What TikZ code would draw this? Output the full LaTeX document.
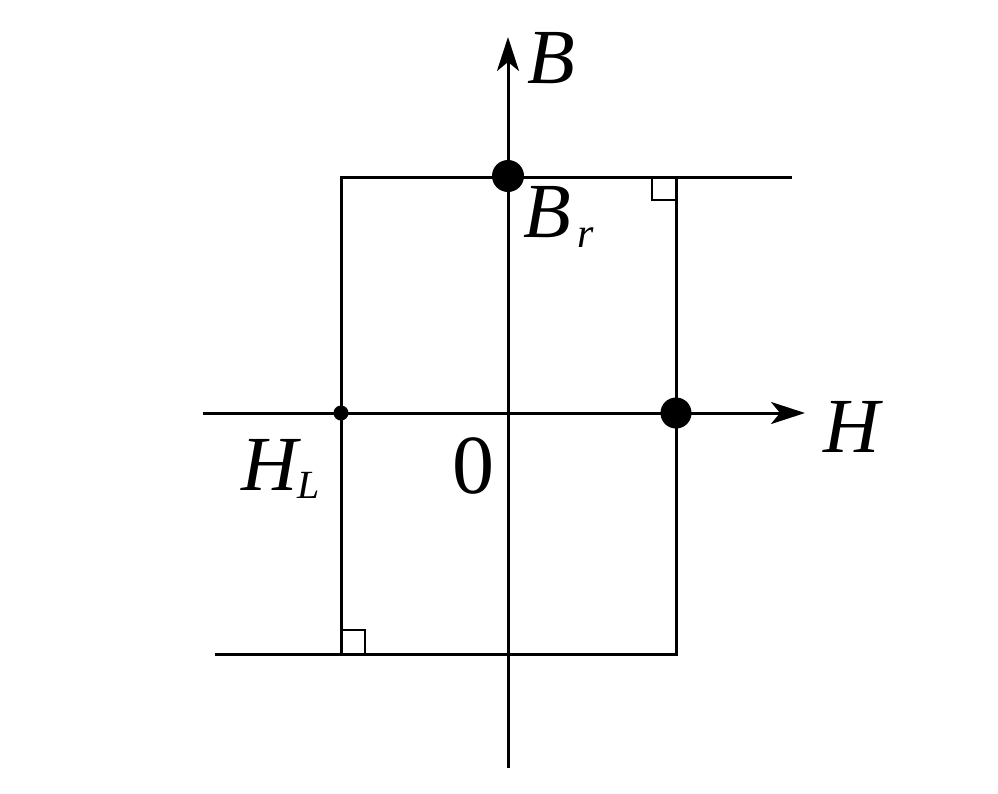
\documentclass[tikz,border=0pt]{standalone}
\usepackage{fontspec}
\setmainfont{Liberation Serif}
\usetikzlibrary{arrows.meta,positioning}
\tikzset{>={Stealth[length=34pt,width=22pt,inset=9pt]}}
\begin{document}
\begin{tikzpicture}[x=1pt, y=-1pt, line width=3pt,
    lbl/.style={inner sep=0pt, anchor=base west, font=\fontsize{78}{78}\selectfont\itshape},
    dot/.style={circle, fill, inner sep=0pt}]
    \useasboundingbox (0,0) rectangle (998,793);
    \coordinate (h-l) at (203,413);
    \coordinate (h-r) at (805,413);
    \coordinate (b-b) at (508,768);
    \coordinate (b-t) at (508,37);
    \coordinate (top-l) at (341,177);
    \coordinate (top-r) at (792,177);
    \coordinate (bot-l) at (215,654);
    \coordinate (bot-r) at (676,654);
    \coordinate (c-l) at (341,654);
    \coordinate (c-r) at (676,177);
    \draw[->] (h-l) -- (h-r);
    \draw[->] (b-b) -- (b-t);
    \draw (top-r) -- (top-l) -- (c-l);
    \draw (bot-l) -- (bot-r) -- (c-r);
    % right angle marks
    \draw[line width=2.5pt] (c-r) ++(-24,0) -- ++(0,23) -- ++(24,0);
    \draw[line width=2.5pt] (c-l) ++(0,-24) -- ++(24,0) -- ++(0,24);
    \node[dot, minimum size=32pt] (br) at (508,176) {};
    \node[dot, minimum size=31pt] (hc) at (676,413) {};
    \node[dot, minimum size=15pt] (hl) at (341,413) {};
    \node[lbl] (B) at (526,83) {B};
    \node[lbl] (Br) at (522,237) {B\hspace{6pt}\raisebox{-10pt}{\fontsize{42}{42}\selectfont r}};
    \node[lbl] (H) at (822,452) {H};
    \node[lbl] (HL) at (240,490) {H\raisebox{-8pt}{\fontsize{40}{40}\selectfont L}};
    \node[lbl, font=\fontsize{84}{84}\selectfont] (zero) at (451,493) {0};
\end{tikzpicture}
\end{document}
